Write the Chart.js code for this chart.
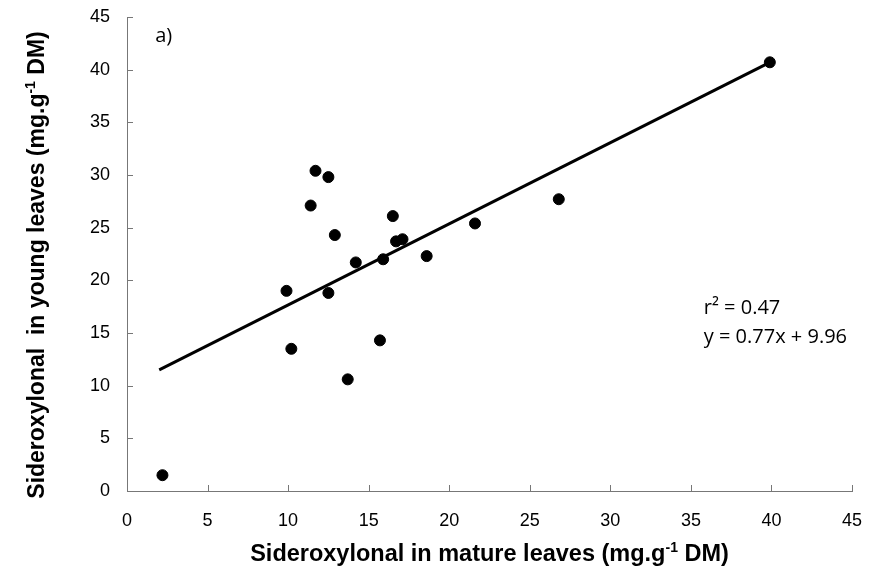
<!DOCTYPE html>
<html>
<head>
<meta charset="utf-8">
<script src="https://cdn.jsdelivr.net/npm/chart.js@4.4.1/dist/chart.umd.min.js"></script>
<style>
    html, body { margin: 0; padding: 0; background: #fff; }
    #wrap { width: 870px; height: 572px; }
</style>
</head>
<body>
<div id="wrap"><canvas id="chart"></canvas></div>
<script>
// Sideroxylonal: mature leaves (x) vs young leaves (y)
const matureLeaves = [2.2, 9.9, 10.2, 11.4, 11.7, 12.5, 12.5, 12.9, 13.7, 14.2, 15.7, 15.9, 16.5, 16.7, 17.1, 18.6, 21.6, 26.8, 39.9];
const youngLeaves  = [1.5, 19.0, 13.5, 27.1, 30.4, 29.8, 18.8, 24.3, 10.6, 21.7, 14.3, 22.0, 26.1, 23.7, 23.9, 22.3, 25.4, 27.7, 40.7];

// regression line end points (y = 0.77x + 9.96)
const fitX = [2.0, 39.9];
const fitY = [11.5, 40.7];

const axisTicks = [0, 5, 10, 15, 20, 25, 30, 35, 40, 45];
const statsLines = ['r² = 0.47', 'y = 0.77x + 9.96'];
const panelLabel = 'a)';

// axis titles, split so the "-1" can be drawn as a superscript
const xTitle = [['Sideroxylonal in mature leaves (mg.g', false], ['-1', true], [' DM)', false]];
const yTitle = [['Sideroxylonal  in young leaves (mg.g', false], ['-1', true], [' DM)', false]];

const AXIS_COLOR = '#777';

// ticks pointing into the plot area, like the original
const innerTicks = {
    id: 'innerTicks',
    afterDatasetsDraw(chart) {
        const { ctx, scales: { x, y } } = chart;
        ctx.save();
        ctx.strokeStyle = AXIS_COLOR;
        ctx.lineWidth = 1;
        axisTicks.forEach(v => {
            const px = Math.round(x.getPixelForValue(v)) + 0.5;
            ctx.beginPath();
            ctx.moveTo(px, x.top);
            ctx.lineTo(px, x.top - 6);
            ctx.stroke();
            const py = Math.round(y.getPixelForValue(v)) + 0.5;
            ctx.beginPath();
            ctx.moveTo(y.right, py);
            ctx.lineTo(y.right + 6, py);
            ctx.stroke();
        });
        ctx.restore();
    }
};

function drawRichText(ctx, parts, size) {
    const bigFont = `bold ${size}px "Liberation Sans", Arial, sans-serif`;
    const smallFont = `bold ${Math.round(size * 0.6)}px "Liberation Sans", Arial, sans-serif`;
    let total = 0;
    parts.forEach(([t, sup]) => {
        ctx.font = sup ? smallFont : bigFont;
        total += ctx.measureText(t).width;
    });
    let cx = -total / 2;
    parts.forEach(([t, sup]) => {
        ctx.font = sup ? smallFont : bigFont;
        ctx.fillText(t, cx, sup ? -size * 0.38 : 0);
        cx += ctx.measureText(t).width;
    });
}

const annotations = {
    id: 'annotations',
    afterDraw(chart) {
        const { ctx, chartArea, scales: { x, y } } = chart;
        ctx.save();
        ctx.fillStyle = '#000';
        ctx.textBaseline = 'middle';
        ctx.textAlign = 'left';
        ctx.font = '20px "Open Sans", sans-serif';
        ctx.fillText(panelLabel, x.getPixelForValue(1.75), y.getPixelForValue(43.2));
        ctx.font = '20px "Open Sans", sans-serif';
        ctx.fillText(statsLines[0], x.getPixelForValue(35.8), y.getPixelForValue(17.3));
        ctx.fillText(statsLines[1], x.getPixelForValue(35.8), y.getPixelForValue(14.6));

        // axis titles
        ctx.textBaseline = 'alphabetic';
        ctx.save();
        ctx.translate((chartArea.left + chartArea.right) / 2, 561);
        drawRichText(ctx, xTitle, 23.5);
        ctx.restore();
        ctx.save();
        ctx.translate(44, 265);
        ctx.rotate(-Math.PI / 2);
        drawRichText(ctx, yTitle, 23);
        ctx.restore();
        ctx.restore();
    }
};

const tickFont = { family: '"Liberation Sans", Arial, sans-serif', size: 18 };

new Chart(document.getElementById('chart'), {
    type: 'scatter',
    data: {
        datasets: [
            {
                label: 'Samples',
                data: matureLeaves.map((v, i) => ({ x: v, y: youngLeaves[i] })),
                backgroundColor: '#000',
                borderColor: '#000',
                pointRadius: 5.5,
                pointHoverRadius: 5.5
            },
            {
                label: 'Fit',
                type: 'line',
                data: fitX.map((v, i) => ({ x: v, y: fitY[i] })),
                borderColor: '#000',
                borderWidth: 3,
                pointRadius: 0,
                fill: false
            }
        ]
    },
    options: {
        responsive: true,
        maintainAspectRatio: false,
        animation: false,
        layout: { padding: { top: 17, right: 18, left: 0, bottom: 0 } },
        plugins: {
            legend: { display: false },
            tooltip: { enabled: false }
        },
        scales: {
            x: {
                type: 'linear',
                min: 0,
                max: 45,
                afterBuildTicks: s => { s.ticks = axisTicks.map(v => ({ value: v })); },
                afterFit: s => { s.height = 81; s.paddingLeft = 0; s.paddingRight = 0; },
                grid: { display: false },
                border: { display: true, color: AXIS_COLOR, width: 1 },
                ticks: { color: '#000', font: tickFont, padding: 11, maxRotation: 0 }
            },
            y: {
                type: 'linear',
                min: 0,
                max: 45,
                afterBuildTicks: s => { s.ticks = axisTicks.map(v => ({ value: v })); },
                afterFit: s => { s.width = 127; s.paddingTop = 0; s.paddingBottom = 0; },
                grid: { display: false },
                border: { display: true, color: AXIS_COLOR, width: 1 },
                ticks: { color: '#000', font: tickFont, padding: 9 }
            }
        }
    },
    plugins: [innerTicks, annotations]
});
</script>
</body>
</html>
